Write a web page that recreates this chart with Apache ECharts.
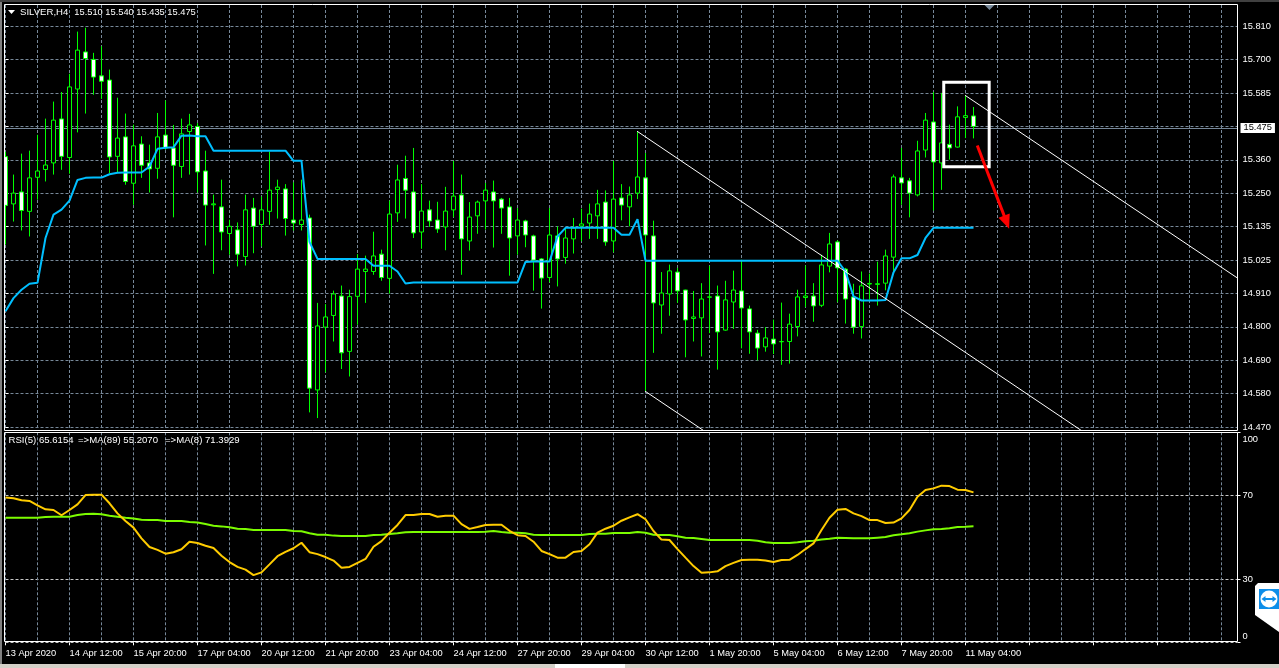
<!DOCTYPE html>
<html>
<head>
<meta charset="utf-8">
<title>SILVER,H4</title>
<script src="https://cdn.jsdelivr.net/npm/echarts@6/dist/echarts.min.js"></script>
<style>
  html, body { margin: 0; padding: 0; background: #000; overflow: hidden; }
  #chart { width: 1279px; height: 668px; }
</style>
</head>
<body>
<div id="chart"></div>
<script>
// --- price panel, H4 bars ---
const opens = [
  15.374,15.216,15.256,15.191,15.305,15.331,15.353,15.500,15.371,15.600,
  15.724,15.699,15.644,15.630,15.375,15.440,15.285,15.416,15.353,15.335,
  15.446,15.403,15.341,15.458,15.475,15.326,15.213,15.206,15.117,15.129,
  15.040,15.202,15.147,15.191,15.264,15.266,15.162,15.147,15.169,14.594,
  14.804,14.843,14.908,14.723,14.907,14.990,14.990,15.048,14.967,15.186,
  15.301,15.256,15.122,15.196,15.162,15.139,15.196,15.246,15.092,15.176,
  15.226,15.256,15.232,15.206,15.109,15.159,15.109,15.032,14.970,15.109,
  15.037,15.099,15.142,15.152,15.176,15.222,15.092,15.236,15.206,15.252,
  15.303,15.109,14.878,14.915,14.988,14.928,14.833,14.835,14.904,14.908,
  14.794,14.888,14.925,14.865,14.784,14.738,14.764,14.755,14.756,14.806,
  14.903,14.908,14.877,15.008,15.089,14.998,14.905,14.806,14.948,14.947,
  14.951,15.038,15.303,15.293,15.246,15.396,15.490,15.353,15.415,15.406,
  15.505,15.510
];
const closes = [
  15.211,15.252,15.194,15.303,15.326,15.346,15.496,15.375,15.607,15.730,
  15.702,15.640,15.626,15.373,15.436,15.291,15.410,15.345,15.333,15.440,
  15.403,15.345,15.450,15.480,15.323,15.212,15.216,15.122,15.141,15.048,
  15.196,15.141,15.196,15.262,15.272,15.167,15.152,15.162,14.600,14.808,
  14.838,14.915,14.718,14.906,14.998,14.998,15.042,14.970,15.182,15.296,
  15.262,15.119,15.192,15.159,15.132,15.192,15.242,15.099,15.172,15.222,
  15.262,15.226,15.202,15.102,15.162,15.112,15.028,14.968,15.112,15.032,
  15.102,15.135,15.149,15.182,15.216,15.089,15.232,15.212,15.246,15.306,
  15.112,14.885,14.918,14.992,14.925,14.828,14.838,14.898,14.905,14.788,
  14.895,14.928,14.868,14.788,14.734,14.768,14.748,14.756,14.814,14.905,
  14.908,14.875,15.012,15.082,15.002,14.898,14.804,14.942,14.950,14.949,
  15.042,15.306,15.286,15.252,15.393,15.496,15.356,15.420,15.403,15.507,
  15.511,15.475
];
const lows = [
  15.080,15.157,15.127,15.107,15.230,15.291,15.314,15.330,15.317,15.455,
  15.518,15.581,15.567,15.319,15.319,15.280,15.213,15.303,15.254,15.300,
  15.397,15.171,15.303,15.314,15.254,15.077,14.982,15.061,15.046,15.007,
  15.010,15.051,15.074,15.146,15.167,15.110,15.127,15.127,14.519,14.500,
  14.653,14.756,14.664,14.639,14.812,14.885,14.979,14.959,14.916,15.156,
  15.167,15.102,15.066,15.139,15.119,15.061,15.172,14.979,15.060,15.116,
  15.130,15.070,15.116,14.976,15.046,15.071,14.926,14.866,14.954,14.940,
  15.016,15.050,15.091,15.099,15.099,15.076,15.054,15.161,15.141,15.232,
  14.589,14.718,14.782,14.842,14.885,14.703,14.756,14.706,14.784,14.662,
  14.792,14.798,14.733,14.715,14.693,14.722,14.714,14.678,14.682,14.773,
  14.871,14.822,14.871,14.987,14.887,14.816,14.782,14.766,14.896,14.876,
  14.927,14.990,15.213,15.171,15.241,15.371,15.194,15.263,15.364,15.404,
  15.436,15.435
];
const highs = [
  15.390,15.314,15.384,15.394,15.447,15.501,15.558,15.590,15.651,15.792,
  15.805,15.721,15.743,15.665,15.571,15.518,15.481,15.442,15.414,15.520,
  15.562,15.480,15.501,15.517,15.486,15.394,15.247,15.297,15.163,15.154,
  15.247,15.236,15.241,15.391,15.297,15.282,15.288,15.297,15.180,14.885,
  14.881,14.926,14.943,14.929,15.048,15.043,15.123,15.063,15.227,15.347,
  15.377,15.403,15.282,15.227,15.223,15.273,15.360,15.314,15.222,15.227,
  15.286,15.294,15.236,15.236,15.202,15.163,15.113,15.035,15.202,15.141,
  15.136,15.169,15.200,15.217,15.263,15.261,15.360,15.282,15.274,15.458,
  15.386,15.160,14.988,15.013,15.002,14.929,14.925,14.951,15.009,14.943,
  14.959,14.993,15.029,14.876,14.795,14.804,14.829,14.886,14.849,14.929,
  15.010,14.951,15.046,15.119,15.094,15.002,14.949,14.990,14.983,15.023,
  15.063,15.314,15.403,15.303,15.427,15.520,15.590,15.587,15.481,15.542,
  15.578,15.540
];
// blue moving line over the candles
const blueLine = [
  14.857,14.901,14.929,14.949,14.952,15.102,15.180,15.197,15.227,15.296,
  15.303,15.304,15.304,15.315,15.320,15.321,15.321,15.321,15.341,15.400,
  15.404,15.405,15.444,15.445,15.442,15.442,15.394,15.394,15.394,15.394,
  15.394,15.394,15.394,15.394,15.394,15.394,15.360,15.360,15.089,15.032,
  15.032,15.032,15.032,15.032,15.032,15.032,15.009,15.009,15.009,14.990,
  14.950,14.953,14.953,14.953,14.953,14.953,14.953,14.953,14.953,14.953,
  14.953,14.953,14.953,14.953,14.953,15.022,15.023,15.023,15.023,15.107,
  15.136,15.136,15.136,15.136,15.136,15.136,15.136,15.113,15.113,15.165,
  15.026,15.026,15.026,15.026,15.026,15.026,15.026,15.026,15.026,15.026,
  15.026,15.026,15.026,15.026,15.026,15.026,15.026,15.026,15.026,15.026,
  15.026,15.026,15.026,15.026,15.026,14.990,14.907,14.893,14.893,14.893,
  14.895,14.987,15.034,15.034,15.045,15.102,15.136,15.136,15.136,15.136,
  15.136,15.136
];
// --- RSI panel ---
const rsiMa8 = [
  69.0,68.6,67.6,67.3,65.2,63.3,63.0,60.5,63.0,65.7,
  70.1,70.3,70.3,66.2,61.4,57.8,54.6,49.5,45.4,44.0,
  42.2,42.9,44.3,47.9,47.3,46.0,44.9,41.2,38.2,35.9,
  34.6,32.0,33.3,37.1,41.0,43.1,44.8,47.4,42.9,42.0,
  40.6,38.9,35.5,35.9,37.8,39.7,45.5,48.2,52.2,55.9,
  60.6,60.6,61.1,61.1,59.8,60.3,60.3,56.3,54.0,54.9,
  55.9,56.0,56.0,53.1,51.0,50.6,47.9,43.5,42.0,40.3,
  40.3,43.0,43.5,46.7,52.2,54.1,55.5,57.9,59.5,61.0,
  58.6,53.0,48.9,48.7,44.4,40.3,36.3,33.1,33.3,33.8,
  36.3,37.8,39.2,39.3,39.3,39.0,38.2,39.2,39.3,41.6,
  44.4,47.1,53.5,59.3,63.1,63.5,61.4,60.1,58.2,58.2,
  56.8,57.0,59.0,63.0,69.3,72.5,73.3,74.6,74.4,72.7,
  72.5,71.39
];
const rsiMa89 = [
  59.3,59.3,59.3,59.3,59.3,59.7,59.8,59.8,59.8,60.6,
  61.1,61.2,61.0,60.3,59.8,59.3,59.0,58.4,58.2,58.2,
  57.8,57.8,57.8,57.3,57.0,56.3,55.5,55.2,54.8,54.1,
  54.0,53.5,53.5,53.5,53.5,53.5,53.0,52.9,51.9,51.2,
  51.2,50.8,50.6,50.6,50.6,50.6,51.1,51.2,51.6,51.9,
  52.4,52.5,52.5,52.5,52.5,52.5,52.5,52.5,52.5,52.5,
  52.7,53.0,52.5,52.2,52.2,51.9,51.2,51.1,51.1,51.1,
  51.1,51.1,51.1,51.6,51.7,51.7,52.0,52.0,52.0,52.5,
  52.2,51.2,51.1,51.1,50.5,49.8,49.7,49.2,48.7,48.7,
  48.7,48.7,48.7,48.7,48.4,47.6,47.3,47.3,47.3,47.6,
  48.1,48.4,49.0,49.3,49.8,49.7,49.5,49.5,49.5,49.8,
  50.1,51.0,51.4,51.9,52.7,53.3,53.8,54.0,54.3,54.9,
  55.0,55.21
];

// --- axes: one label every 8 bars ---
const timeLabels = [
  '13 Apr 2020','14 Apr 12:00','15 Apr 20:00','17 Apr 04:00','20 Apr 12:00','21 Apr 20:00',
  '23 Apr 04:00','24 Apr 12:00','27 Apr 20:00','29 Apr 04:00','30 Apr 12:00','1 May 20:00',
  '5 May 04:00','6 May 12:00','7 May 20:00','11 May 04:00'
];
const priceTicks = [14.47,14.5817,14.6933,14.805,14.9167,15.0283,15.14,15.2517,15.3633,15.475,15.5867,15.6983,15.81];
const priceLabels = ['14.470','14.580','14.690','14.800','14.910','15.025','15.135','15.250','15.360','15.475','15.585','15.700','15.810'];
const rsiTicks = [0,30,70,100];
const lastPrice = 15.475;

// --- drawn objects on the chart, [bar, price] ---
const trendLineA = [[79,15.458],[136,14.431]];
const trendLineB = [[80,14.589],[88,14.445]];
const trendLineC = [[120,15.578],[154,14.968]];
const whiteBox = [[117.28,15.623],[122.96,15.623],[122.96,15.340],[117.28,15.340],[117.28,15.623]];
const redArrow = [[121.47,15.411],[125.14,15.155]];

const BAR_SLOTS = 155; // the axis runs on past the last bar
const GRID_COLOR = '#778899';
const UP_GREEN = '#00ff00';
const FONT = 'Liberation Sans';
const FONT_SIZE = 9.3;

const slots = Array.from({ length: BAR_SLOTS }, (_, i) => String(i));
const candles = opens.map((o, i) => [o, closes[i], lows[i], highs[i]]);

const gridLine = { show: true, lineStyle: { color: GRID_COLOR, type: [3, 2], width: 1 } };

const annotationLine = (data, color, width) => ({
  type: 'line',
  xAxisIndex: 2,
  yAxisIndex: 0,
  data,
  symbol: 'none',
  silent: true,
  clip: true,
  z: 6,
  lineStyle: { color, width, join: 'miter', cap: 'square' }
});

const caption = (text, x, y, size) => ({
  type: 'text', silent: true, z: 20, x, y,
  style: { text, fill: '#fff', font: size + 'px "' + FONT + '"', textVerticalAlign: 'middle' }
});

const option = {
  backgroundColor: '#000',
  animation: false,
  grid: [
    // half pixel left edge keeps the 1px wicks crisp
    { left: 5.5, top: 5, width: 1232, height: 425 },
    { left: 5.5, top: 432.3, width: 1232, height: 210 }
  ],
  xAxis: [
    {
      type: 'category', gridIndex: 0, data: slots, boundaryGap: false,
      axisLine: { show: false }, axisTick: { show: false }, axisLabel: { show: false },
      splitLine: { ...gridLine, interval: 3 }
    },
    {
      type: 'category', gridIndex: 1, data: slots, boundaryGap: false,
      axisLine: { show: false },
      axisTick: { show: true, interval: 7, length: 3, lineStyle: { color: '#fff' } },
      axisLabel: {
        interval: 7, showMaxLabel: false, hideOverlap: false, align: 'left', margin: 6.5, color: '#fff',
        fontFamily: FONT, fontSize: FONT_SIZE,
        formatter: (v, i) => timeLabels[i / 8] || ''
      },
      splitLine: { ...gridLine, interval: 3 }
    },
    // fractional bar positions for the hand drawn objects
    { type: 'value', gridIndex: 0, min: 0, max: BAR_SLOTS - 1, show: false }
  ],
  yAxis: [
    {
      type: 'value', gridIndex: 0, position: 'right', min: 14.4601, max: 15.8809,
      axisLine: { show: false },
      axisTick: { show: true, length: 3, lineStyle: { color: '#fff' }, customValues: priceTicks },
      axisLabel: {
        customValues: priceTicks, margin: 5, color: '#fff', fontFamily: FONT, fontSize: FONT_SIZE,
        formatter: (v) => priceLabels[priceTicks.indexOf(v)] || v.toFixed(3)
      },
      splitLine: gridLine
    },
    {
      type: 'value', gridIndex: 1, position: 'right', min: 0, max: 100,
      axisLine: { show: false },
      axisTick: { show: true, length: 3, lineStyle: { color: '#fff' }, customValues: rsiTicks },
      axisLabel: {
        customValues: rsiTicks, margin: 5, color: '#fff', fontFamily: FONT, fontSize: FONT_SIZE,
        verticalAlignMinLabel: 'bottom', verticalAlignMaxLabel: 'top',
        // the end labels sit inside the panel
        formatter: (v) => (v === 100 ? '{hi|100}' : v === 0 ? '{lo|0}' : String(v)),
        rich: {
          hi: { color: '#fff', fontFamily: FONT, fontSize: FONT_SIZE, padding: [3, 0, 0, 0] },
          lo: { color: '#fff', fontFamily: FONT, fontSize: FONT_SIZE, padding: [0, 0, 1, 0] }
        }
      },
      splitLine: { show: true, lineStyle: { color: '#c8c8c8', type: [3, 2], width: 1 } }
    }
  ],
  series: [
    {
      // last price line and its box on the scale
      type: 'line', xAxisIndex: 0, yAxisIndex: 0, data: [], silent: true, z: 1,
      markLine: {
        silent: true, symbol: 'none', z: 1,
        data: [{ yAxis: lastPrice }],
        lineStyle: { color: GRID_COLOR, type: 'solid', width: 1 },
        label: {
          position: 'end', distance: 3, formatter: lastPrice.toFixed(3),
          color: '#000', backgroundColor: '#fff', padding: [1, 3, 0, 3],
          fontFamily: FONT, fontSize: FONT_SIZE
        }
      }
    },
    {
      type: 'candlestick', xAxisIndex: 0, yAxisIndex: 0, data: candles, barWidth: 4, z: 2,
      itemStyle: {
        color: '#000', color0: '#fff',
        borderColor: UP_GREEN, borderColor0: UP_GREEN, borderColorDoji: UP_GREEN, borderWidth: 1
      }
    },
    {
      type: 'line', xAxisIndex: 0, yAxisIndex: 0, data: blueLine, symbol: 'none', z: 3,
      lineStyle: { color: '#00bfff', width: 2 }
    },
    annotationLine(trendLineA, '#fff', 1),
    annotationLine(trendLineB, '#fff', 1),
    annotationLine(trendLineC, '#fff', 1),
    annotationLine(whiteBox, '#fff', 3),
    {
      type: 'line', xAxisIndex: 2, yAxisIndex: 0, data: [], silent: true, z: 7,
      markLine: {
        silent: true, symbol: ['none', 'triangle'], symbolSize: [12, 14], z: 7,
        label: { show: false },
        lineStyle: { color: '#ff0000', type: 'solid', width: 3 },
        data: [[{ coord: redArrow[0] }, { coord: redArrow[1] }]]
      }
    },
    {
      type: 'line', xAxisIndex: 1, yAxisIndex: 1, data: rsiMa89, symbol: 'none', z: 3,
      lineStyle: { color: '#7cfc00', width: 2 }
    },
    {
      type: 'line', xAxisIndex: 1, yAxisIndex: 1, data: rsiMa8, symbol: 'none', z: 4,
      lineStyle: { color: '#ffcc00', width: 2 }
    }
  ],
  // window chrome: panel frames, captions, tabs, remote desktop tab
  graphic: [
    { type: 'rect', silent: true, z: 19, shape: { x: 0, y: 0, width: 4, height: 668 }, style: { fill: '#000' } },
    { type: 'rect', silent: true, z: 20, shape: { x: 4.5, y: 4.5, width: 1233, height: 426 }, style: { fill: 'none', stroke: '#fff', lineWidth: 1 } },
    { type: 'rect', silent: true, z: 20, shape: { x: 4.5, y: 432.5, width: 1233, height: 209 }, style: { fill: 'none', stroke: '#fff', lineWidth: 1 } },
    { type: 'rect', silent: true, z: 20, shape: { x: 0, y: 0, width: 2, height: 668 }, style: { fill: '#808080' } },
    { type: 'rect', silent: true, z: 20, shape: { x: 0, y: 0, width: 1279, height: 2 }, style: { fill: '#404040' } },
    { type: 'rect', silent: true, z: 20, shape: { x: 0, y: 664, width: 1279, height: 4 }, style: { fill: '#d4d0c8' } },
    { type: 'rect', silent: true, z: 21, shape: { x: 555, y: 664, width: 70, height: 4 }, style: { fill: '#fff' } },
    { type: 'polygon', silent: true, z: 20, shape: { points: [[8, 10], [15, 10], [11.5, 14]] }, style: { fill: '#fff' } },
    { type: 'polygon', silent: true, z: 20, shape: { points: [[984.5, 5], [994.5, 5], [989.5, 10]] }, style: { fill: GRID_COLOR } },
    caption('SILVER,H4', 20, 12.5, 9.6),
    caption('15.510', 74.3, 12.5, 9.3),
    caption('15.540', 105.3, 12.5, 9.3),
    caption('15.435', 136.3, 12.5, 9.3),
    caption('15.475', 167.3, 12.5, 9.3),
    caption('RSI(5) 65.6154', 8.5, 440.7, 9.6),
    caption('=>MA(89) 55.2070', 78, 440.7, 9.6),
    caption('=>MA(8) 71.3929', 165, 440.7, 9.6),
    { type: 'polygon', silent: true, z: 20, shape: { points: [[1258, 583], [1279, 583], [1279, 632], [1255, 615], [1255, 586]] }, style: { fill: '#fff' } },
    { type: 'rect', silent: true, z: 21, shape: { x: 1259, y: 589, width: 20, height: 20 }, style: { fill: '#0e8ee9' } },
    { type: 'circle', silent: true, z: 22, shape: { cx: 1269, cy: 599, r: 8.5 }, style: { fill: '#fff' } },
    { type: 'polyline', silent: true, z: 23, shape: { points: [[1263, 599], [1275, 599]] }, style: { stroke: '#0e8ee9', lineWidth: 2 } },
    { type: 'polygon', silent: true, z: 23, shape: { points: [[1261.5, 599], [1265.5, 596], [1265.5, 602]] }, style: { fill: '#0e8ee9' } },
    { type: 'polygon', silent: true, z: 23, shape: { points: [[1276.5, 599], [1272.5, 596], [1272.5, 602]] }, style: { fill: '#0e8ee9' } }
  ]
};

const myChart = echarts.init(document.getElementById('chart'));
myChart.setOption(option);
</script>
</body>
</html>
